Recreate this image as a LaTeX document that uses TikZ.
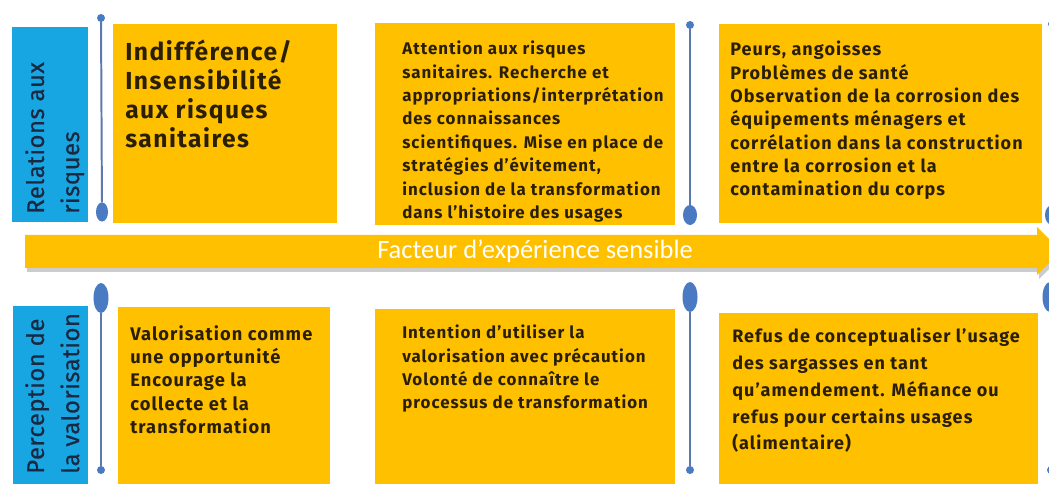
\documentclass[tikz,border=0pt]{standalone}
\usepackage{fontspec}
\setmainfont{Fira Sans}
\newfontfamily\cardfont[LetterSpace=6]{Fira Sans}
\newfontfamily\tagfont[LetterSpace=2,FakeBold=0.6]{Fira Sans}
\newfontfamily\arrowfont{Carlito}
\usetikzlibrary{shapes.geometric}
\definecolor{amber}{HTML}{FFC000}
\definecolor{skyblue}{HTML}{17A6E2}
\definecolor{pinblue}{HTML}{4A7BC2}
\definecolor{stemblue}{HTML}{5D78AE}
\definecolor{inkbrown}{HTML}{2A1F04}
\definecolor{navyink}{HTML}{1B2842}

\begin{document}
\begin{tikzpicture}
  [x=0.025cm,y=-0.025cm,
  card/.style={rectangle,fill=amber,anchor=north west,inner sep=0,outer sep=0},
  tag/.style={rectangle,fill=skyblue,anchor=north west,inner sep=0,outer sep=0},
  cardtext/.style={anchor=north west,align=left,inner sep=0,text=inkbrown,
                  font=\cardfont\bfseries\fontsize{12}{16.6}\selectfont},
  tagtext/.style={anchor=north west,align=left,inner sep=0,rotate=90,text=navyink,
                  font=\tagfont\fontsize{17}{25}\selectfont},
  pin/.style={ellipse,fill=pinblue,inner sep=0,outer sep=0},
  stem/.style={stemblue,line width=1.4pt}
                  ]
  \useasboundingbox (0,0) rectangle (1049,484);

  \node[tag,minimum width=1.9cm,minimum height=4.875cm] (tagrisk) at (12,27) {};
  \node[tag,minimum width=1.875cm,minimum height=4.45cm] (tagvalo) at (13,306) {};
  \node[card,minimum width=5.6cm,minimum height=4.975cm] (risk1) at (113,24) {};
  \node[card,minimum width=7.5cm,minimum height=5.05cm] (risk2) at (375,23) {};
  \node[card,minimum width=8.075cm,minimum height=4.975cm] (risk3) at (719,24) {};
  \node[card,minimum width=5.3cm,minimum height=4.425cm] (valo1) at (118,307) {};
  \node[card,minimum width=7.5cm,minimum height=4.375cm] (valo2) at (375,309) {};
  \node[card,minimum width=7.975cm,minimum height=4.275cm] (valo3) at (719,313) {};

  \node[tagtext] (tagrisktxt) at (25,214) {Relations aux\\risques};
  \node[tagtext] (tagvalotxt) at (25,474) {Perception de\\la valorisation};

  \node[cardtext,font=\cardfont\bfseries\fontsize{17.5}{20.6}\selectfont] (risk1txt) at (125,40)
    {Indifférence/\\Insensibilité\\aux risques\\sanitaires};
  \node[cardtext] (risk2txt) at (402,41)
    {Attention aux risques\\sanitaires.  Recherche et\\appropriations/interprétation\\des connaissances\\scientifiques. Mise en place de\\stratégies d’évitement,\\inclusion de la transformation\\dans l’histoire des usages};
  \node[cardtext,font=\cardfont\bfseries\fontsize{12.8}{16.6}\selectfont] (risk3txt) at (730,41)
    {Peurs, angoisses\\Problèmes de santé\\Observation de la corrosion des\\équipements ménagers et\\corrélation dans la construction\\entre la corrosion et la\\contamination du corps};
  \node[cardtext,font=\cardfont\bfseries\fontsize{13}{16.6}\selectfont] (valo1txt) at (130,325)
    {Valorisation comme\\une opportunité\\Encourage la\\collecte et la\\transformation};
  \node[cardtext] (valo2txt) at (402,325)
    {Intention d’utiliser la\\valorisation avec précaution\\Volonté de connaître le\\processus de transformation};
  \node[cardtext,font=\cardfont\bfseries\fontsize{12.8}{19}\selectfont] (valo3txt) at (732,328)
    {Refus de conceptualiser l’usage\\des sargasses en tant\\qu’amendement. Méfiance ou\\refus pour certains usages\\(alimentaire)};

  % arrow with its shadow
  \fill[black!40,opacity=0.5] (27,239) -- (1039,239) -- (1039,231) -- (1063,255)
    -- (1039,279) -- (1039,272) -- (27,272) -- cycle;
  \fill[amber] (25,235) -- (1037,235) -- (1037,227) -- (1061,251)
    -- (1037,275) -- (1037,268) -- (25,268) -- cycle;
  \node[text=white,font=\arrowfont\fontsize{18.8}{20}\selectfont] (arrowtxt) at (535,251)
    {Facteur d’expérience sensible};

  \node[pin,minimum width=0.2cm,minimum height=0.2cm] (rpin1a) at (101,18) {};
  \node[pin,minimum width=0.3cm,minimum height=0.475cm] (rpin1b) at (102,212) {};
  \node[pin,minimum width=0.2cm,minimum height=0.2cm] (rpin2a) at (690,25) {};
  \node[pin,minimum width=0.35cm,minimum height=0.5cm] (rpin2b) at (690,215) {};
  \node[pin,minimum width=0.2cm,minimum height=0.2cm] (rpin3a) at (1052,24) {};
  \node[pin,minimum width=0.35cm,minimum height=0.5cm] (rpin3b) at (1052,215) {};
  \node[pin,minimum width=0.375cm,minimum height=0.75cm] (vpin1a) at (101,298) {};
  \node[pin,minimum width=0.2cm,minimum height=0.2cm] (vpin1b) at (101,470) {};
  \node[pin,minimum width=0.375cm,minimum height=0.75cm] (vpin2a) at (690,297) {};
  \node[pin,minimum width=0.2cm,minimum height=0.2cm] (vpin2b) at (690,470) {};
  \node[pin,minimum width=0.375cm,minimum height=0.75cm] (vpin3a) at (1050,297) {};
  \node[pin,minimum width=0.2cm,minimum height=0.2cm] (vpin3b) at (1051,470) {};
  \draw[stem] (rpin1a) to (rpin1b);
  \draw[stem] (rpin2a) to (rpin2b);
  \draw[stem] (rpin3a) to (rpin3b);
  \draw[stem] (vpin1a) to (vpin1b);
  \draw[stem] (vpin2a) to (vpin2b);
  \draw[stem] (vpin3a) to (vpin3b);
\end{tikzpicture}
\end{document}
